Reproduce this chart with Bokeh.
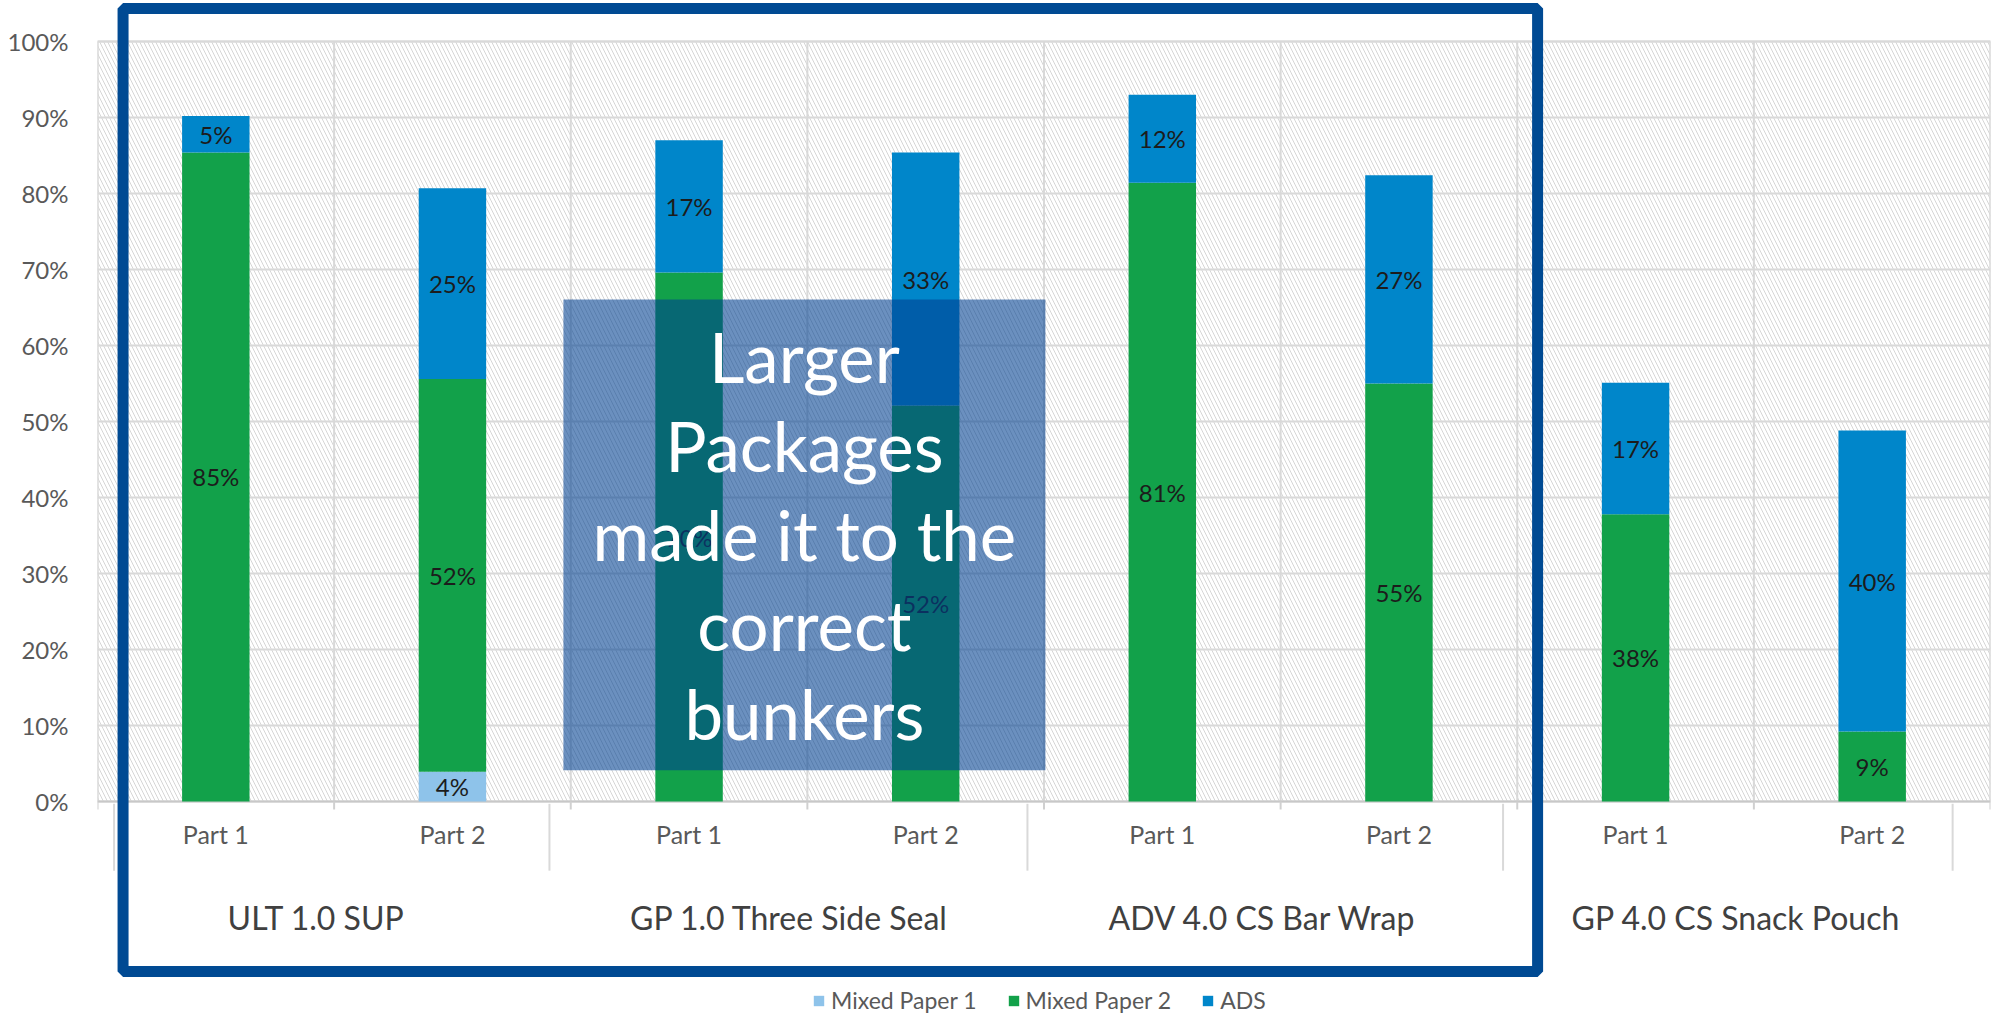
from bokeh.plotting import figure
from bokeh.models import (Range1d, FixedTicker, PrintfTickFormatter, BoxAnnotation,
                          Legend, LegendItem, ColumnDataSource)
from bokeh.core.properties import value
from bokeh.embed import file_html
from bokeh.resources import INLINE

# ---------------- data ----------------
groups = ["ULT 1.0 SUP", "GP 1.0 Three Side Seal", "ADV 4.0 CS Bar Wrap", "GP 4.0 CS Snack Pouch"]
parts = ["Part 1", "Part 2"]
series_names = ["Mixed Paper 1", "Mixed Paper 2", "ADS"]
mixed_paper_1 = [0.0, 3.9, 0.0, 0.0, 0.0, 0.0, 0.0, 0.0]
mixed_paper_2 = [85.4, 51.7, 69.6, 52.1, 81.4, 55.0, 37.8, 9.2]
ads = [4.8, 25.1, 17.4, 33.3, 11.6, 27.4, 17.3, 39.6]
y_ticks = [0, 10, 20, 30, 40, 50, 60, 70, 80, 90, 100]
overlay_text = "Larger\nPackages\nmade it to the\ncorrect\nbunkers"

colors = ["#8EC3EA", "#12A14A", "#0086CA"]
FONT = "Lato"

n = len(groups) * len(parts)
xs = [i + 0.5 for i in range(n)]
part_labels = [pt for g in groups for pt in parts]

src = ColumnDataSource(dict(x=xs, mp1=mixed_paper_1, mp2=mixed_paper_2, ads=ads))

p = figure(width=2003, height=1017, output_backend="svg", toolbar_location=None,
           x_range=Range1d(0, n), y_range=Range1d(-28.42, 105.395),
           x_axis_location=None, y_axis_location="left",
           min_border_left=97, min_border_right=13, min_border_top=0, min_border_bottom=0)
p.grid.visible = False
p.outline_line_color = None
p.background_fill_color = "white"
p.border_fill_color = "white"

# y axis
ax = p.yaxis[0]
ax.ticker = FixedTicker(ticks=y_ticks)
ax.formatter = PrintfTickFormatter(format="%d%%")
ax.axis_line_color = None
ax.major_tick_line_color = None
ax.minor_tick_line_color = None
ax.major_label_standoff = 23
ax.major_label_text_font = FONT
ax.major_label_text_font_size = "24px"
ax.major_label_text_color = "#595959"

ymax = y_ticks[-1]
# hatched plot area
p.quad(left=0, right=n, bottom=0, top=ymax, fill_color="white",
       hatch_pattern="\\", hatch_color="#d6d6d6", hatch_scale=8, hatch_weight=1,
       line_color="#d9d9d9", line_width=2)
# grid
gx = list(range(n + 1))
p.segment(x0=gx, x1=gx, y0=[0] * len(gx), y1=[ymax] * len(gx), line_color="#d9d9d9", line_width=2)
gy = y_ticks[1:]
p.segment(x0=[0] * len(gy), x1=[n] * len(gy), y0=gy, y1=gy, line_color="#d9d9d9", line_width=2)
# x axis line and ticks
p.segment(x0=[0], x1=[n], y0=[0], y1=[0], line_color="#c8c8c8", line_width=2)
p.segment(x0=gx, x1=gx, y0=[0] * len(gx), y1=[-1.05] * len(gx), line_color="#d0d0d0", line_width=2)
# group separators (as drawn in the original)
sep_x = [0.07, 1.91, 3.93, 5.94, 7.84]
p.segment(x0=sep_x, x1=sep_x, y0=[-0.3] * len(sep_x), y1=[-9.1] * len(sep_x),
          line_color="#d9d9d9", line_width=2)

# bars
rs = p.vbar_stack(["mp1", "mp2", "ads"], x="x", width=0.285, color=colors,
                  line_color=None, source=src)

# value labels
lx, ly, lt = [], [], []
for i in range(n):
    base = 0.0
    for v in (mixed_paper_1[i], mixed_paper_2[i], ads[i]):
        if v > 0:
            lx.append(xs[i]); ly.append(base + v / 2); lt.append(f"{round(v)}%")
        base += v
p.text(x=lx, y=ly, text=lt, text_align="center", text_baseline="middle",
       text_font=value(FONT), text_font_size="24px", text_color="#1c1c1c")

# category labels
p.text(x=xs, y=[-4.34] * n, text=part_labels, text_align="center", text_baseline="middle",
       text_font=value(FONT), text_font_size="25px", text_color="#595959")
gxs = [2 * g + 1 for g in range(len(groups))]
p.text(x=gxs, y=[-15.3] * len(groups), text=groups, text_align="center", text_baseline="middle",
       x_offset=-18, text_font=value(FONT), text_font_size="32px", text_color="#404040")

# overlay annotation box
p.add_layout(BoxAnnotation(left=1.969, right=4.006, bottom=4.1, top=66.05,
                           fill_color="#003F90", fill_alpha=0.58, line_color=None))
t = p.text(x=[(1.969 + 4.006) / 2], y=[(4.1 + 66.05) / 2], text=[overlay_text],
           text_align="center", text_baseline="middle", text_line_height=1.075,
           text_font=value(FONT), text_font_size="69px", text_color="white")
t.level = "overlay"

# highlight outline
p.add_layout(BoxAnnotation(left=0.108, right=6.086, bottom=-22.37, top=104.34,
                           fill_alpha=0, line_color="#004A93", line_alpha=1.0, line_width=11))

legend = Legend(items=[LegendItem(label=series_names[k], renderers=[rs[k]]) for k in range(3)],
                orientation="horizontal", location=(715, 3),
                glyph_width=13, glyph_height=13, label_standoff=6, spacing=30,
                padding=0, margin=0, border_line_color=None, background_fill_alpha=0,
                label_text_font=FONT, label_text_font_size="23px", label_text_color="#595959")
p.add_layout(legend, "center")

open("out.html", "w").write(file_html(p, INLINE))
